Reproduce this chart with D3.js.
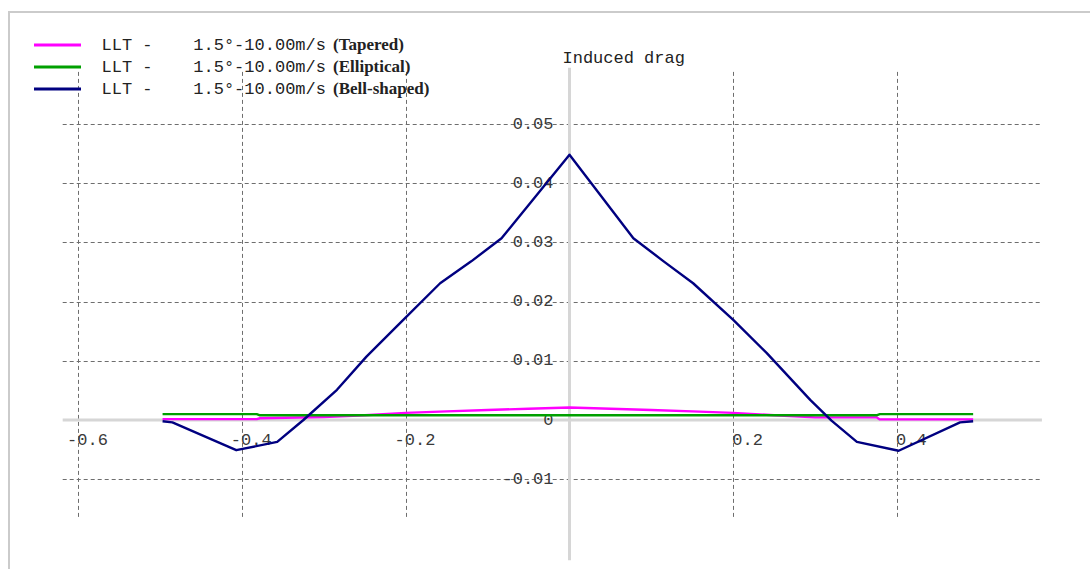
<!DOCTYPE html>
<html>
<head>
<meta charset="utf-8">
<script src="https://cdn.jsdelivr.net/npm/d3@7"></script>
<style>
  body { margin: 0; background: #fff; }
  svg { display: block; }
  text { white-space: pre; }
</style>
</head>
<body>
<svg class="chart"></svg>
<script>
// spanwise position (m) and induced drag
var taperedX = [-0.497, -0.382, -0.378, -0.3, -0.25, -0.2, -0.15, -0.1, -0.05, 0, 0.05, 0.1, 0.15, 0.2, 0.25, 0.3, 0.375, 0.379, 0.493];
var taperedY = [0.00015, 0.00015, 0.0003, 0.0005, 0.0008, 0.0012, 0.00145, 0.0017, 0.0019, 0.0021, 0.0019, 0.0017, 0.00145, 0.0012, 0.0008, 0.00045, 0.00045, 0.0001, 0.0001];

var ellipticalX = [-0.497, -0.382, -0.378, 0.375, 0.379, 0.493];
var ellipticalY = [0.001, 0.001, 0.0008, 0.0008, 0.001, 0.001];

var bellX = [-0.497, -0.485, -0.407, -0.357, -0.325, -0.284, -0.248, -0.211, -0.158, -0.12, -0.083, 0,
             0.078, 0.115, 0.151, 0.2, 0.241, 0.294, 0.32, 0.351, 0.402, 0.477, 0.493];
var bellY = [-0.0002, -0.0004, -0.0051, -0.0037, 0, 0.0051, 0.0107, 0.0158, 0.0231, 0.0268, 0.0307, 0.0448,
             0.0307, 0.0268, 0.0231, 0.0169, 0.0113, 0.0034, -0.0001, -0.0037, -0.0052, -0.0004, -0.0002];

var seriesNames = ['(Tapered)', '(Elliptical)', '(Bell-shaped)'];
var seriesPrefix = 'LLT -    1.5°-10.00m/s';
var seriesColors = ['#ff00ff', '#00a000', '#000080'];

var xTicks = [-0.6, -0.4, -0.2, 0.2, 0.4];
var xTickLabels = ['-0.6', '-0.4', '-0.2', '0.2', '0.4'];
var yTicks = [0.05, 0.04, 0.03, 0.02, 0.01, 0, -0.01];
var yTickLabels = ['0.05', '0.04', '0.03', '0.02', '0.01', '0', '-0.01'];
var yTitle = 'Induced drag';

var W = 1090, H = 569;
var mono = '"Liberation Mono", "Courier New", monospace';
var charW = 10.2;

var svg = d3.select(".chart")
    .attr("width", W)
    .attr("height", H);

// x - span scale, y - drag scale
var x = d3.scaleLinear().domain([-0.6, 0.4]).range([78.25, 897]);
var y = d3.scaleLinear().domain([0, 0.05]).range([420, 124]);

// frame
svg.append("path")
    .attr("d", "M9," + H + "V12H" + W)
    .attr("fill", "none")
    .attr("stroke", "#cbcbcb")
    .attr("stroke-width", 2);

// grid
var gridXExt = [-0.619, 0.577], gridYExt = [0.0588, -0.0164];

svg.append("g").selectAll("line")
    .data(yTicks.filter(function(d) { return d !== 0; }))
  .enter().append("line")
    .attr("x1", x(gridXExt[0])).attr("x2", x(gridXExt[1]))
    .attr("y1", function(d) { return Math.round(y(d)) + 0.5; })
    .attr("y2", function(d) { return Math.round(y(d)) + 0.5; })
    .attr("stroke", "#6e6e6e")
    .attr("stroke-dasharray", "4,3");

svg.append("g").selectAll("line")
    .data(xTicks)
  .enter().append("line")
    .attr("y1", y(gridYExt[0])).attr("y2", y(gridYExt[1]))
    .attr("x1", function(d) { return Math.round(x(d)) + 0.5; })
    .attr("x2", function(d) { return Math.round(x(d)) + 0.5; })
    .attr("stroke", "#6e6e6e")
    .attr("stroke-dasharray", "4,3");

// axes
svg.append("line")
    .attr("x1", x(gridXExt[0])).attr("x2", x(gridXExt[1]))
    .attr("y1", y(0)).attr("y2", y(0))
    .attr("stroke", "#d6d6d6")
    .attr("stroke-width", 3);

svg.append("line")
    .attr("x1", x(0)).attr("x2", x(0))
    .attr("y1", y(0.0595)).attr("y2", y(-0.0237))
    .attr("stroke", "#d6d6d6")
    .attr("stroke-width", 3);

// tick labels
svg.append("g").selectAll("text")
    .data(xTicks)
  .enter().append("text")
    .attr("x", function(d) { return x(d) - (d < 0 ? charW : 0) - 1; })
    .attr("y", y(0) + 25)
    .attr("font-family", mono)
    .attr("font-size", 17)
    .attr("fill", "#3a3a3a")
    .text(function(d, i) { return xTickLabels[i]; });

svg.append("g").selectAll("text")
    .data(yTicks)
  .enter().append("text")
    .attr("x", x(0) - 16)
    .attr("y", function(d) { return y(d) + 4.5; })
    .attr("text-anchor", "end")
    .attr("font-family", mono)
    .attr("font-size", 17)
    .attr("fill", "#3a3a3a")
    .text(function(d, i) { return yTickLabels[i]; });

svg.append("text")
    .attr("x", x(0) - 7)
    .attr("y", 63)
    .attr("font-family", mono)
    .attr("font-size", 17)
    .attr("fill", "#222")
    .text(yTitle);

// curves
var series = [
  { xs: taperedX, ys: taperedY },
  { xs: ellipticalX, ys: ellipticalY },
  { xs: bellX, ys: bellY }
];

var line = d3.line()
    .x(function(d) { return x(d[0]); })
    .y(function(d) { return y(d[1]); });

svg.append("g").selectAll("path")
    .data(series)
  .enter().append("path")
    .attr("d", function(s) { return line(d3.zip(s.xs, s.ys)); })
    .attr("fill", "none")
    .attr("stroke", function(s, i) { return seriesColors[i]; })
    .attr("stroke-width", 2.4)
    .attr("stroke-linejoin", "round");

// legend
var legend = svg.append("g").selectAll("g")
    .data(seriesNames)
  .enter().append("g")
    .attr("transform", function(d, i) { return "translate(0," + (45 + i * 22) + ")"; });

legend.append("line")
    .attr("x1", 34).attr("x2", 81)
    .attr("stroke", function(d, i) { return seriesColors[i]; })
    .attr("stroke-width", 3);

legend.append("text")
    .attr("x", 101.5)
    .attr("y", 5)
    .attr("font-family", mono)
    .attr("font-size", 17)
    .attr("fill", "#222")
    .text(seriesPrefix);

legend.append("text")
    .attr("x", 333)
    .attr("y", 5)
    .attr("font-family", '"Liberation Serif", "Times New Roman", serif')
    .attr("font-weight", "bold")
    .attr("font-size", 17)
    .attr("fill", "#222")
    .text(function(d) { return d; });
</script>
</body>
</html>
